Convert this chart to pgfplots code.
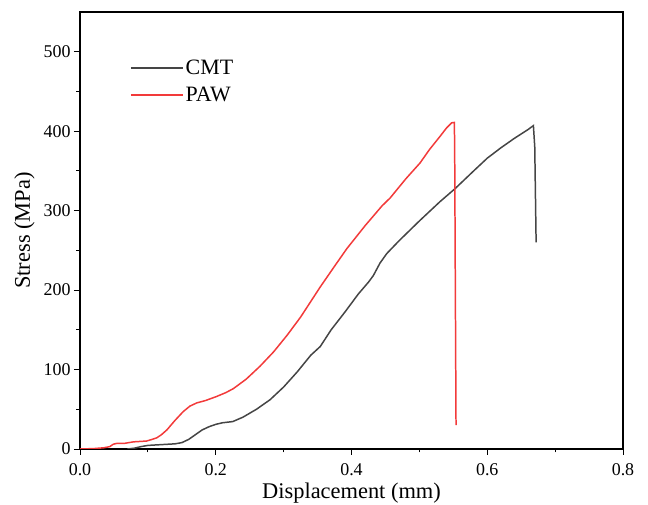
\documentclass[border=0pt]{standalone}
\usepackage{fontspec}
\setmainfont{Liberation Serif}
\usepackage{pgfplots}
\pgfplotsset{compat=1.18}
\definecolor{cmtc}{HTML}{454545}
\definecolor{pawc}{HTML}{F23A3A}
\begin{document}
\begin{tikzpicture}
\begin{axis}[name=ax,
  scale only axis, width=543bp, height=437bp,
  xmin=0, xmax=0.8, ymin=0, ymax=550,
  xtick={0,0.2,0.4,0.6,0.8}, ytick={0,100,200,300,400,500},
  minor xtick={0.1,0.3,0.5,0.7}, minor ytick={50,150,250,350,450},
  xticklabels={0.0,0.2,0.4,0.6,0.8},
  tick pos=left, tick align=outside,
  major tick length=6bp, minor tick length=3.5bp,
  every tick/.style={black, line width=0.9pt},
  axis line style={line width=1.1pt},
  /pgf/number format/assume math mode=true,
  tick label style={font=\fontsize{18}{20}\selectfont},
  xticklabel style={yshift=-5bp},
  label style={font=\fontsize{22.5}{26}\selectfont},
  xlabel={Displacement (mm)}, ylabel={Stress (MPa)},
  xlabel style={yshift=-0.5bp},
  ylabel style={yshift=2bp},
  legend style={draw=none, fill=none, at={(0.092,0.895)}, anchor=north west,
    font=\fontsize{22}{24}\selectfont, row sep=7bp, inner sep=0pt},
  legend cell align=left,
  legend image post style={line width=1.6pt},
  legend image code/.code={\draw[#1] (0bp,0bp) -- (52bp,0bp);},
]
\addplot[cmtc, line width=1.5pt] coordinates {
(0.070,0) (0.080,1) (0.090,3) (0.100,4.5) (0.120,5.5) (0.140,6.5) (0.150,8)
(0.160,12) (0.170,18) (0.180,24) (0.190,28) (0.200,31) (0.210,33) (0.225,34.5)
(0.240,40) (0.260,50) (0.280,62) (0.300,78) (0.320,97) (0.340,118) (0.354,129)
(0.370,150) (0.390,172) (0.410,195) (0.425,210) (0.432,218) (0.442,234) (0.452,246)
(0.470,262) (0.500,287) (0.530,311) (0.553,328) (0.580,350) (0.600,366)
(0.620,379) (0.640,391) (0.660,402) (0.668,407) (0.670,380) (0.671,320) (0.672,260)
};
\addlegendentry{CMT}
\addplot[pawc, line width=1.5pt] coordinates {
(0.000,0) (0.020,0.5) (0.035,1.5) (0.044,3) (0.049,6) (0.054,7) (0.065,7)
(0.079,9) (0.098,10) (0.106,12) (0.113,14) (0.120,18) (0.128,24) (0.140,36)
(0.152,47) (0.162,54) (0.172,58) (0.185,61) (0.201,66) (0.215,71) (0.226,76)
(0.245,88) (0.265,104) (0.285,122) (0.305,143) (0.325,166) (0.354,204) (0.375,230)
(0.393,252) (0.420,281) (0.445,306) (0.457,316) (0.480,340) (0.501,360) (0.515,377)
(0.530,393) (0.540,404) (0.5476,410.5) (0.5515,411) (0.552,380) (0.553,200) (0.554,30)
};
\addlegendentry{PAW}
\end{axis}
\pgfresetboundingbox
\path[use as bounding box] ([xshift=-80bp,yshift=-56bp]ax.south west) rectangle ([xshift=25bp,yshift=12bp]ax.north east);
\end{tikzpicture}
\end{document}
